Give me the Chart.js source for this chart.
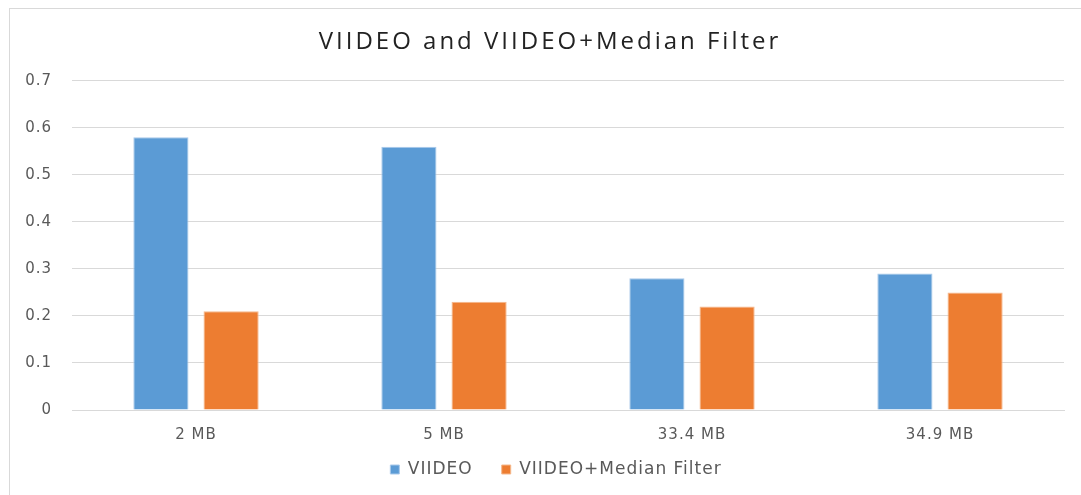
<!DOCTYPE html>
<html>
<head>
<meta charset="utf-8">
<script src="https://cdn.jsdelivr.net/npm/chart.js@4"></script>
<style>
  html, body { margin: 0; padding: 0; background: #fff; }
  #wrap {
    position: absolute; left: 9px; top: 8px;
    width: 1072px; height: 487px;
    border-left: 1px solid #d9d9d9; border-top: 1px solid #d9d9d9;
  }
</style>
</head>
<body>
<div id="wrap"><canvas id="chart" width="1072" height="487"></canvas></div>
<script>
const labels = ["2 MB", "5 MB", "33.4 MB", "34.9 MB"]
const viideo = [0.58, 0.56, 0.28, 0.29]
const viideoMedian = [0.21, 0.23, 0.22, 0.25]

const tickFont = { family: "DejaVu Sans", size: 15 }
const legendPad = 29

// the reference text is drawn wide, so space the letters out a little,
// and nudge title / legend to where the original put them
const tweaks = {
  id: "tweaks",
  beforeInit: c => { c.ctx.letterSpacing = "1px" },
  afterInit: c => {
    const t = c.titleBlock
    const tDraw = t.draw.bind(t)
    t.draw = area => {
      c.ctx.save()
      c.ctx.letterSpacing = "3px"
      c.ctx.translate(13, 0)
      tDraw(area)
      c.ctx.restore()
    }
    const l = c.legend
    const lFit = l.fit.bind(l)
    l.fit = () => {
      lFit()
      l.height = 20
    }
    l.draw = () => {
      c.ctx.save()
      c.ctx.translate(19, -20)
      l._draw()
      c.ctx.restore()
    }
  },
  beforeUpdate: c => { c.ctx.letterSpacing = "1px" },
  beforeDraw: c => { c.ctx.letterSpacing = "1px" }
}

new Chart(document.getElementById("chart"), {
  type: "bar",
  data: {
    labels: labels,
    datasets: [
      {
        label: "VIIDEO",
        data: viideo,
        backgroundColor: "#5b9bd5",
        borderColor: "#a9c9ea",
        borderWidth: 1,
        categoryPercentage: 0.566,
        barPercentage: 0.786
      },
      {
        label: "VIIDEO+Median Filter",
        data: viideoMedian,
        backgroundColor: "#ed7d31",
        borderColor: "#f5b88c",
        borderWidth: 1,
        categoryPercentage: 0.566,
        barPercentage: 0.786
      }
    ]
  },
  plugins: [tweaks],
  options: {
    responsive: false,
    animation: false,
    layout: { padding: { left: 0, right: 18, top: 0, bottom: 24 } },
    plugins: {
      title: {
        display: true,
        text: "VIIDEO and VIIDEO+Median Filter",
        color: "#222",
        font: { family: "Open Sans", size: 24, weight: "normal" },
        padding: { top: 19, bottom: 24 }
      },
      legend: {
        position: "bottom",
        labels: {
          color: "#595959",
          font: { family: "DejaVu Sans", size: 17 },
          boxWidth: 9,
          boxHeight: 9,
          padding: legendPad
        }
      },
      tooltip: { enabled: false }
    },
    scales: {
      x: {
        grid: { display: false },
        border: { color: "#d9d9d9" },
        ticks: { color: "#595959", font: tickFont, padding: 8 }
      },
      y: {
        min: 0,
        max: 0.7,
        ticks: { stepSize: 0.1, color: "#595959", font: tickFont, padding: 20 },
        grid: { color: "#d9d9d9", drawTicks: false },
        border: { display: false },
        afterFit: s => { s.width = 62 }
      }
    }
  }
})
</script>
</body>
</html>
